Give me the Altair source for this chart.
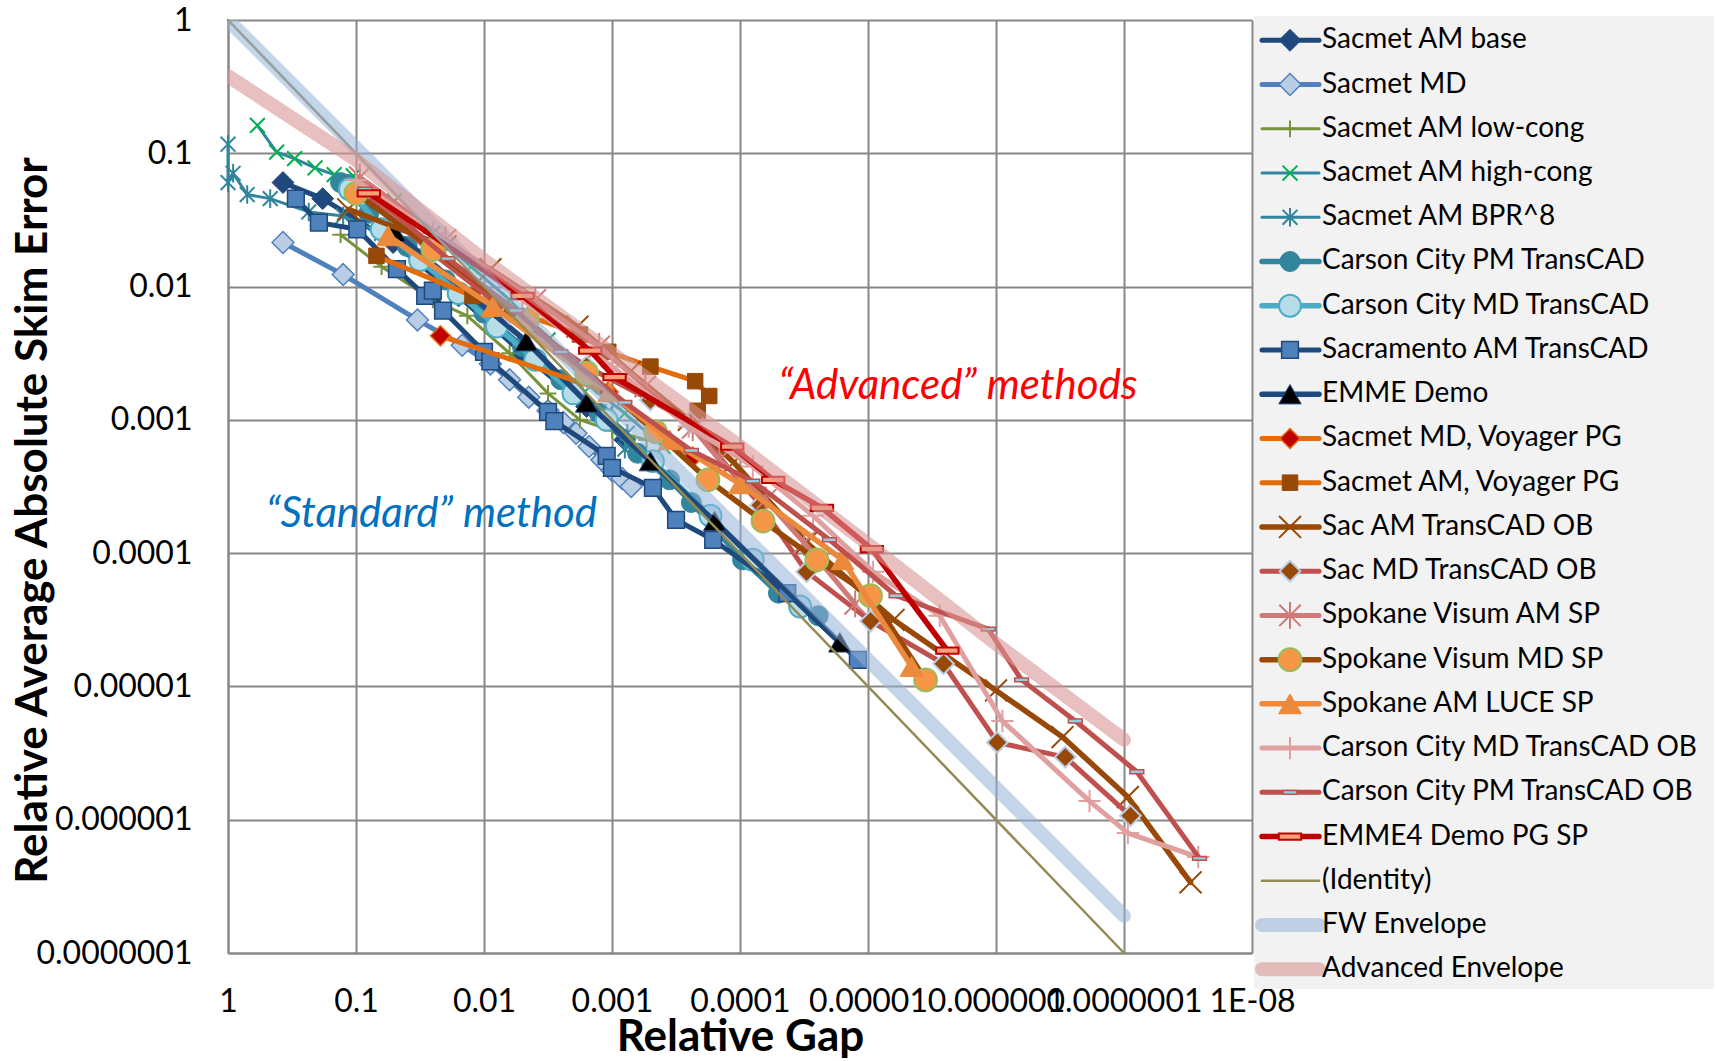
import json
import altair as alt
import pandas as pd

# ---------------- data ----------------
SERIES = [
    "Sacmet AM base", "Sacmet MD", "Sacmet AM low-cong", "Sacmet AM high-cong",
    "Sacmet AM BPR^8", "Carson City PM TransCAD", "Carson City MD TransCAD",
    "Sacramento AM TransCAD", "EMME Demo", "Sacmet MD, Voyager PG",
    "Sacmet AM, Voyager PG", "Sac AM TransCAD OB", "Sac MD TransCAD OB",
    "Spokane Visum AM SP", "Spokane Visum MD SP", "Spokane AM LUCE SP",
    "Carson City MD TransCAD OB", "Carson City PM TransCAD OB", "EMME4 Demo PG SP",
    "(Identity)", "FW Envelope", "Advanced Envelope",
]

gap_sacmet_am_base = [0.372, 0.182, 0.0513, 0.0158, 0.00501, 0.00158, 0.000794]
err_sacmet_am_base = [0.0603, 0.0457, 0.0214, 0.00851, 0.00316, 0.00126, 0.000708]

gap_sacmet_md = [0.372, 0.126, 0.0331, 0.0148, 0.00891, 0.00631, 0.00447, 0.00316,
                 0.00240, 0.00191, 0.00151, 0.00120, 0.001, 0.000832, 0.000708]
err_sacmet_md = [0.0214, 0.0123, 0.00562, 0.00363, 0.00263, 0.00200, 0.00148, 0.00117,
                 0.000955, 0.000794, 0.000631, 0.000501, 0.000417, 0.000363, 0.000316]

gap_low_cong = [0.132, 0.0631, 0.0251, 0.0135, 0.00631, 0.00316, 0.00178, 0.001, 0.000537]
err_low_cong = [0.0245, 0.0141, 0.00794, 0.00603, 0.00316, 0.00158, 0.001, 0.000832, 0.000708]

gap_high_cong = [0.589, 0.417, 0.302, 0.209, 0.148, 0.105, 0.0501, 0.0251, 0.0126,
                 0.00631, 0.00316, 0.00148, 0.000794, 0.000398]
err_high_cong = [0.162, 0.102, 0.0912, 0.0776, 0.0692, 0.0676, 0.0437, 0.0251, 0.0141,
                 0.00794, 0.00398, 0.00178, 0.00112, 0.000631]

gap_bpr8 = [1.0, 1.0, 0.912, 0.708, 0.468, 0.234, 0.126, 0.0631, 0.0316, 0.0158,
            0.00794, 0.00398, 0.002, 0.00112, 0.000759, 0.000794]
err_bpr8 = [0.117, 0.0603, 0.0708, 0.049, 0.0457, 0.0363, 0.0339, 0.0251, 0.0158, 0.00891,
            0.00501, 0.00282, 0.00158, 0.00112, 0.000794, 0.000603]

gap_carson_pm = [0.132, 0.0794, 0.0398, 0.02, 0.01, 0.00501, 0.00251, 0.00126, 0.000631,
                 0.000355, 0.000240, 0.0000955, 0.0000501, 0.0000245]
err_carson_pm = [0.0603, 0.0355, 0.02, 0.0112, 0.00631, 0.00355, 0.002, 0.00112, 0.000562,
                 0.000355, 0.00024, 0.0000891, 0.0000501, 0.0000339]

gap_carson_md = [0.112, 0.0631, 0.0316, 0.0158, 0.00794, 0.00398, 0.002, 0.0011,
                 0.000479, 0.00017, 0.0000794, 0.0000339]
err_carson_md = [0.0537, 0.0269, 0.0158, 0.00891, 0.00501, 0.00282, 0.00158, 0.001,
                 0.00049, 0.000191, 0.0000891, 0.0000398]

gap_sacramento = [0.295, 0.195, 0.0977, 0.0479, 0.0288, 0.0251, 0.0209, 0.01, 0.00891,
                  0.00316, 0.00282, 0.0011, 0.001, 0.000479, 0.000316, 0.000162,
                  0.0000427, 0.0000120]
err_sacramento = [0.0457, 0.0302, 0.0269, 0.0135, 0.00851, 0.00933, 0.00661, 0.00324,
                  0.00275, 0.00115, 0.000977, 0.000537, 0.000437, 0.000309, 0.000178,
                  0.000126, 0.0000501, 0.0000158]

gap_emme_demo = [0.0501, 0.00468, 0.00158, 0.000501, 0.000158, 0.0000166]
err_emme_demo = [0.0257, 0.00389, 0.00135, 0.00049, 0.000174, 0.0000214]

gap_md_voyager = [0.0219, 0.00107, 0.000234]
err_md_voyager = [0.00427, 0.00162, 0.000525]

gap_am_voyager = [0.0692, 0.0123, 0.00178, 0.00107, 0.000501, 0.000224, 0.000174, 0.000214]
err_am_voyager = [0.017, 0.00851, 0.00437, 0.00324, 0.00251, 0.00195, 0.00151, 0.00117]

gap_sac_am_ob = [0.115, 0.02, 0.00891, 0.00186, 0.000724, 0.000251, 0.000112, 0.0000302,
                 0.00000631, 0.000001, 3.02e-7, 9.33e-8, 3.02e-8]
err_sac_am_ob = [0.038, 0.02, 0.0135, 0.00501, 0.00229, 0.001, 0.000479, 0.00012,
                 0.0000316, 9.33e-6, 4.17e-6, 1.48e-6, 3.39e-7]

gap_sac_md_ob = [0.0891, 0.0251, 0.00631, 0.00158, 0.000501, 0.000245, 0.0000692,
                 0.0000302, 9.55e-6, 2.57e-6, 9.77e-7, 2.88e-7, 8.91e-8]
err_sac_md_ob = [0.0501, 0.0178, 0.00631, 0.00251, 0.00141, 0.000955, 0.000229,
                 0.0000724, 0.0000309, 0.0000148, 3.8e-6, 2.95e-6, 1.07e-6]

gap_spokane_am = [0.0933, 0.02, 0.00398, 0.00126, 0.00055, 0.000234, 0.000145,
                  0.0000631, 0.0000316, 0.0000126]
err_spokane_am = [0.0661, 0.0224, 0.00794, 0.00355, 0.00178, 0.000871, 0.000501,
                  0.000251, 0.00012, 0.0000417]

gap_spokane_md = [0.1, 0.0251, 0.00457, 0.00158, 0.000457, 0.000178, 0.0000661,
                  0.0000251, 9.55e-6, 3.55e-6]
err_spokane_md = [0.0501, 0.0191, 0.00562, 0.00224, 0.000813, 0.000355, 0.000174,
                  0.0000891, 0.0000479, 0.0000112]

gap_luce = [0.0562, 0.00851, 0.00105, 0.000355, 0.0001, 0.0000158, 4.57e-6]
err_luce = [0.024, 0.00708, 0.00162, 0.000708, 0.000331, 0.0000891, 0.0000141]

gap_carson_md_ob = [0.1, 0.0251, 0.00501, 0.001, 0.000251, 0.0000794, 0.0000269,
                    9.12e-6, 2.75e-6, 8.91e-7, 1.86e-7, 9.33e-8, 2.63e-8]
err_carson_md_ob = [0.0631, 0.0251, 0.00794, 0.00251, 0.000891, 0.000447, 0.000191,
                    0.0000724, 0.0000339, 5.5e-6, 1.38e-6, 7.94e-7, 5.25e-7]

gap_carson_pm_ob = [0.0851, 0.0191, 0.00562, 0.00251, 0.000794, 0.00024, 0.0000794,
                    0.00002, 6.03e-6, 1.15e-6, 6.31e-7, 2.4e-7, 7.94e-8, 2.57e-8]
err_carson_pm_ob = [0.0537, 0.0162, 0.00661, 0.00324, 0.00135, 0.000589, 0.000347,
                    0.000126, 0.0000479, 0.0000269, 0.0000112, 5.5e-6, 2.29e-6, 5.13e-7]

gap_emme4 = [0.0794, 0.00501, 0.00148, 0.000955, 0.000115, 0.000055, 0.0000229,
             9.33e-6, 2.4e-6]
err_emme4 = [0.0501, 0.00851, 0.00331, 0.00209, 0.000631, 0.000355, 0.000219,
             0.000107, 0.0000186]

gap_identity = [1.0, 1e-7]
err_identity = [1.0, 1e-7]

gap_fw_env = [1.0, 1e-7]
err_fw_env = [1.0, 1.9e-7]

gap_adv_env = [1.0, 0.1, 0.01, 0.001, 0.0001, 0.00001, 0.000001, 0.0000001]
err_adv_env = [0.38, 0.0891, 0.0158, 0.00316, 0.000631, 0.000117, 0.0000209, 0.00000398]

X_TICKS = [1, 0.1, 0.01, 0.001, 0.0001, 0.00001, 0.000001, 0.0000001, 0.00000001]
X_TICK_LABELS = ["1", "0.1", "0.01", "0.001", "0.0001", "0.00001", "0.000001",
                 "0.0000001", "1E-08"]
Y_TICKS = [1, 0.1, 0.01, 0.001, 0.0001, 0.00001, 0.000001, 0.0000001]
Y_TICK_LABELS = ["1", "0.1", "0.01", "0.001", "0.0001", "0.00001", "0.000001",
                 "0.0000001"]

NOTE_TEXT = ["\u201cAdvanced\u201d methods", "\u201cStandard\u201d method"]
NOTE_GAP = [0.000050, 0.505]
NOTE_ERR = [0.00178, 0.000195]
NOTE_COLOR = ["#FF0000", "#0070C0"]

DATA = {
    "Sacmet AM base": (gap_sacmet_am_base, err_sacmet_am_base),
    "Sacmet MD": (gap_sacmet_md, err_sacmet_md),
    "Sacmet AM low-cong": (gap_low_cong, err_low_cong),
    "Sacmet AM high-cong": (gap_high_cong, err_high_cong),
    "Sacmet AM BPR^8": (gap_bpr8, err_bpr8),
    "Carson City PM TransCAD": (gap_carson_pm, err_carson_pm),
    "Carson City MD TransCAD": (gap_carson_md, err_carson_md),
    "Sacramento AM TransCAD": (gap_sacramento, err_sacramento),
    "EMME Demo": (gap_emme_demo, err_emme_demo),
    "Sacmet MD, Voyager PG": (gap_md_voyager, err_md_voyager),
    "Sacmet AM, Voyager PG": (gap_am_voyager, err_am_voyager),
    "Sac AM TransCAD OB": (gap_sac_am_ob, err_sac_am_ob),
    "Sac MD TransCAD OB": (gap_sac_md_ob, err_sac_md_ob),
    "Spokane Visum AM SP": (gap_spokane_am, err_spokane_am),
    "Spokane Visum MD SP": (gap_spokane_md, err_spokane_md),
    "Spokane AM LUCE SP": (gap_luce, err_luce),
    "Carson City MD TransCAD OB": (gap_carson_md_ob, err_carson_md_ob),
    "Carson City PM TransCAD OB": (gap_carson_pm_ob, err_carson_pm_ob),
    "EMME4 Demo PG SP": (gap_emme4, err_emme4),
    "(Identity)": (gap_identity, err_identity),
    "FW Envelope": (gap_fw_env, err_fw_env),
    "Advanced Envelope": (gap_adv_env, err_adv_env),
}

# ---------------- styles ----------------
X_PATH = "M-1,-1L1,1M-1,1L1,-1"
PLUS_PATH = "M-1,0L1,0M0,-1L0,1"
STAR_PATH = "M-1,-1L1,1M-1,1L1,-1M0,-1.25L0,1.25"
DASH_PATH = "M-1,-0.28L1,-0.28L1,0.28L-1,0.28Z"


def st(line, width, shape=None, fill="transparent", stroke=None, size=0, msw=1.5, opacity=1.0):
    return dict(line=line, width=width, shape=shape, fill=fill,
                stroke=stroke if stroke else line, size=size, msw=msw, opacity=opacity)


STYLE = {
    "Sacmet AM base": st("#1F497D", 5, "diamond", "#1F497D", "#1F497D", 480, 1),
    "Sacmet MD": st("#4F81BD", 5, "diamond", "#B9CDE5", "#4F81BD", 480, 1.5),
    "Sacmet AM low-cong": st("#77933C", 3, PLUS_PATH, "transparent", "#77933C", 280, 2),
    "Sacmet AM high-cong": st("#31859C", 3, X_PATH, "transparent", "#00B050", 220, 2),
    "Sacmet AM BPR^8": st("#31859C", 3, STAR_PATH, "transparent", "#31859C", 220, 2),
    "Carson City PM TransCAD": st("#31859C", 5.5, "circle", "#31859C", "#31859C", 400, 1),
    "Carson City MD TransCAD": st("#4BACC6", 5.5, "circle", "#B7DEE8", "#4BACC6", 480, 2),
    "Sacramento AM TransCAD": st("#1F497D", 5, "square", "#4F81BD", "#1F497D", 280, 1.5),
    "EMME Demo": st("#1F497D", 5.5, "triangle-up", "#000000", "#1F497D", 500, 1),
    "Sacmet MD, Voyager PG": st("#E46C0A", 5, "diamond", "#C00000", "#E46C0A", 400, 1.5),
    "Sacmet AM, Voyager PG": st("#E46C0A", 5, "square", "#984807", "#984807", 240, 1),
    "Sac AM TransCAD OB": st("#984807", 5.5, X_PATH, "transparent", "#984807", 480, 2),
    "Sac MD TransCAD OB": st("#C0504D", 5, "diamond", "#984807", "#B9CDE5", 430, 2),
    "Spokane Visum AM SP": st("#D07A78", 5, STAR_PATH, "transparent", "#D07A78", 460, 2),
    "Spokane Visum MD SP": st("#984807", 5.5, "circle", "#F79646", "#9BBB59", 520, 2),
    "Spokane AM LUCE SP": st("#EB8A3C", 5.5, "triangle-up", "#EB8A3C", "#EB8A3C", 520, 1),
    "Carson City MD TransCAD OB": st("#E0A0A0", 5, PLUS_PATH, "transparent", "#E0A0A0", 500, 2),
    "Carson City PM TransCAD OB": st("#C0504D", 5, DASH_PATH, "#93CDDD", "#C0504D", 190, 1.5),
    "EMME4 Demo PG SP": st("#C00000", 5.5, DASH_PATH, "#F7A07A", "#C00000", 500, 2),
    "(Identity)": st("#948A54", 2.5),
    "FW Envelope": st("#95B3D7", 14, opacity=0.55),
    "Advanced Envelope": st("#D99694", 14, opacity=0.6),
}

FONT = "Lato"
W, H = 1024, 933

x_label_expr = json.dumps(X_TICK_LABELS) + "[round(-log(datum.value)/LN10)]"
y_label_expr = json.dumps(Y_TICK_LABELS) + "[round(-log(datum.value)/LN10)]"

x_scale = alt.Scale(type="log", domain=[1e-8, 1], reverse=True, nice=False)
y_scale = alt.Scale(type="log", domain=[1e-7, 1], nice=False)

x_axis = alt.Axis(
    values=X_TICKS, labelExpr=x_label_expr, title="Relative Gap",
    titleFont=FONT, titleFontSize=44, titleFontWeight="bold", titleColor="black",
    titleX=512, titleY=84, titleAlign="center", titleBaseline="middle",
    labelFont=FONT, labelFontSize=32, labelColor="black", labelPadding=33,
    labelOverlap=False, labelFlush=False, labelBound=False, ticks=False,
    grid=True, gridColor="#878787", gridWidth=2,
    domainColor="#878787", domainWidth=2,
)
y_axis = alt.Axis(
    values=Y_TICKS, labelExpr=y_label_expr, title="Relative Average Absolute Skim Error",
    titleFont=FONT, titleFontSize=44, titleFontWeight="bold", titleColor="black",
    titleAngle=270, titleX=-195, titleY=500, titleAlign="center", titleBaseline="middle",
    labelFont=FONT, labelFontSize=32, labelColor="black", labelPadding=36,
    labelOverlap=False, labelFlush=False, labelBound=False, ticks=False,
    grid=True, gridColor="#878787", gridWidth=2,
    domainColor="#878787", domainWidth=2,
)

X_ENC = alt.X("gap:Q", scale=x_scale, axis=x_axis)
Y_ENC = alt.Y("err:Q", scale=y_scale, axis=y_axis)

layers = []
for name in SERIES:
    gaps, errs = DATA[name]
    s = STYLE[name]
    df = pd.DataFrame({"gap": gaps, "err": errs, "i": list(range(len(gaps)))})
    base = alt.Chart(df)
    is_env = "Envelope" in name
    line = base.mark_line(
        color=s["line"], strokeWidth=s["width"], strokeCap="round", strokeJoin="round",
        opacity=s["opacity"], clip=is_env,
    ).encode(x=X_ENC, y=Y_ENC, order="i:Q")
    layers.append(line)
    if s["shape"]:
        pts = base.mark_point(
            shape=s["shape"], filled=True, fill=s["fill"], stroke=s["stroke"],
            size=s["size"], strokeWidth=s["msw"], opacity=1,
        ).encode(x=X_ENC, y=Y_ENC)
        layers.append(pts)

notes_df = pd.DataFrame({"gap": NOTE_GAP, "err": NOTE_ERR, "text": NOTE_TEXT, "color": NOTE_COLOR})
notes = alt.Chart(notes_df).mark_text(
    align="left", baseline="middle", font=FONT, fontSize=42, fontStyle="italic",
).encode(x=X_ENC, y=Y_ENC, text="text:N", color=alt.Color("color:N", scale=None))
layers.append(notes)

main = alt.layer(*layers)

# ---------------- legend ----------------
leg_rows = []
for k, name in enumerate(SERIES):
    s = STYLE[name]
    leg_rows.append(dict(
        rank=k, label=name, lcolor=s["line"], lwidth=s["width"], lop=s["opacity"],
        shape=s["shape"] or "", fill=s["fill"], stroke=s["stroke"], size=s["size"],
        msw=s["msw"],
    ))
leg_df = pd.DataFrame(leg_rows)
leg_y = alt.Y("rank:Q", scale=alt.Scale(domain=[0, len(SERIES) - 1], range=[20.3, 949.3]),
              axis=None)

leg_bg = alt.Chart(pd.DataFrame({"a": [1]})).mark_rect(fill="#F2F2F2").encode(
    x=alt.value(1026), x2=alt.value(1486), y=alt.value(-4), y2=alt.value(969))
leg_lines = alt.Chart(leg_df).mark_rule(strokeCap="round").encode(
    x=alt.value(1034), x2=alt.value(1091), y=leg_y,
    color=alt.Color("lcolor:N", scale=None),
    strokeWidth=alt.StrokeWidth("lwidth:Q", scale=None),
    opacity=alt.Opacity("lop:Q", scale=None),
)
leg_pts = alt.Chart(leg_df[leg_df["shape"] != ""]).mark_point(filled=True, opacity=1).encode(
    x=alt.value(1062), y=leg_y,
    shape=alt.Shape("shape:N", scale=None),
    fill=alt.Fill("fill:N", scale=None),
    stroke=alt.Stroke("stroke:N", scale=None),
    size=alt.Size("size:Q", scale=None),
    strokeWidth=alt.StrokeWidth("msw:Q", scale=None),
)
leg_text = alt.Chart(leg_df).mark_text(
    align="left", baseline="middle", font=FONT, fontSize=28, color="black",
).encode(x=alt.value(1094), y=leg_y, text="label:N")

legend = alt.layer(leg_bg, leg_lines, leg_pts, leg_text)

chart = alt.layer(main, legend).resolve_scale(y="independent").properties(
    width=W, height=H,
    autosize=alt.AutoSizeParams(type="none"),
    padding={"left": 228, "top": 20, "right": 465, "bottom": 108},
    background="white",
).configure_view(stroke=None)

chart.save("out.html", embed_options={"renderer": "svg", "actions": False})
